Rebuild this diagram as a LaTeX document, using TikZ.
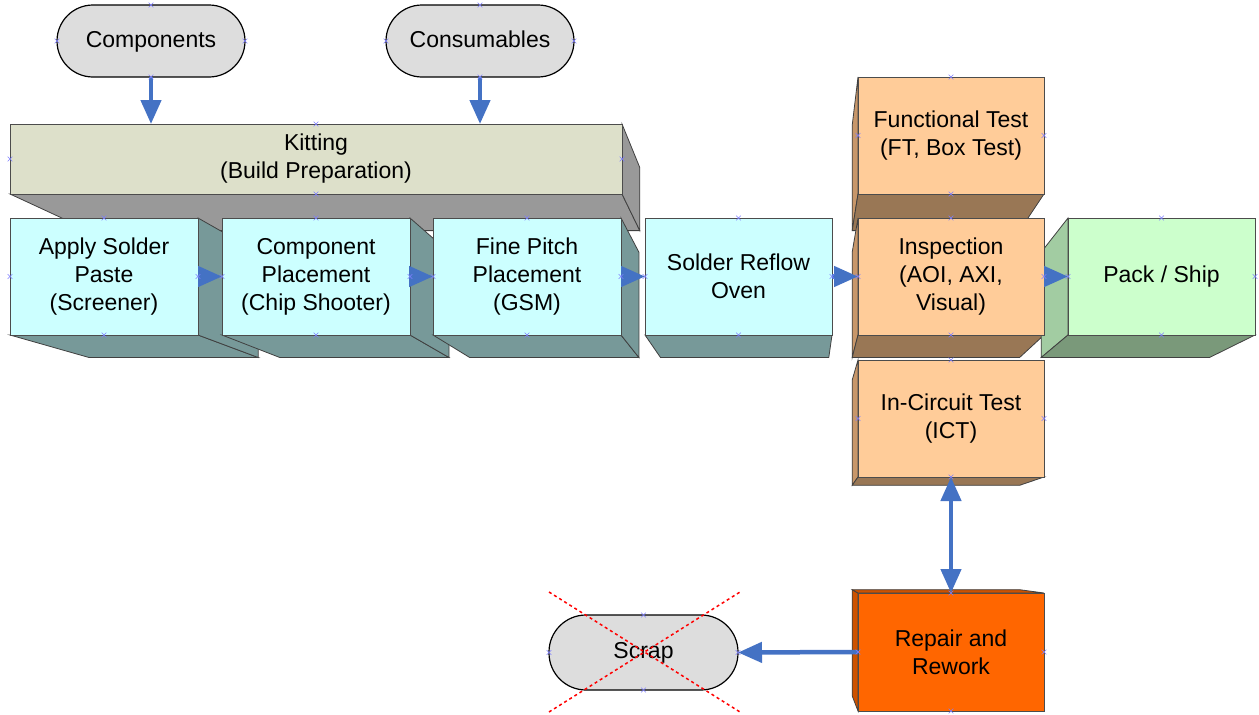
\documentclass[tikz,border=0pt]{standalone}
\usepackage{fontspec}
\setmainfont{Liberation Sans}
\usetikzlibrary{calc,positioning,arrows.meta,shapes.misc}
\pgfdeclarelayer{background}
\pgfsetlayers{background,main}

\definecolor{arrowblue}{HTML}{4472C4}
\definecolor{kitfront}{HTML}{DDE0CA}
\definecolor{kitside}{HTML}{999999}
\definecolor{cyanfront}{HTML}{CCFFFF}
\definecolor{cyanside}{HTML}{779999}
\definecolor{orangefront}{HTML}{FFCC99}
\definecolor{orangeside}{HTML}{C8976A}
\definecolor{orangebottom}{HTML}{997755}
\definecolor{greenfront}{HTML}{CCFFCC}
\definecolor{greenside}{HTML}{A2CCA2}
\definecolor{greenbottom}{HTML}{7A997A}
\definecolor{repairfront}{HTML}{FF6600}
\definecolor{repairside}{HTML}{CC5200}
\definecolor{termfill}{HTML}{DDDDDD}
\definecolor{cptblue}{HTML}{7F7FFF}

% one face of a 3d box, pulled towards the vanishing point (vp)
\newcommand{\boxdepth}{0.1}
\newcommand{\boxface}[4]{%
  \filldraw[fill=#4, draw=black!75, line width=0.8pt] (#1.#2) -- (#1.#3)
    -- ($(#1.#3)!\boxdepth!(vp)$) -- ($(#1.#2)!\boxdepth!(vp)$) -- cycle;}

\begin{document}
\begin{tikzpicture}[x=1pt, y=-1pt,
    font=\fontsize{23}{28}\selectfont,
    box/.style = {draw=black!70, line width=0.8pt, minimum width=188pt, minimum height=117pt, align=center, inner sep=2pt, outer sep=0pt},
    term/.style = {draw=black, line width=1.2pt, fill=termfill, rounded corners=36pt, minimum width=188pt, minimum height=72pt, outer sep=0pt, text height=17pt, text depth=5pt},
    flow/.style = {arrowblue, line width=4.5pt, -{Triangle[length=24pt,width=20pt]}},
    cpt/.style = {cross out, draw=cptblue, minimum size=4pt, inner sep=0pt, line width=0.6pt}]

    \useasboundingbox (0,0) rectangle (1259,715);
    \coordinate (vp) at (800,560);

    \node[term] (comp) at (151,41) {Components};
    \node[term] (cons) at (480,41) {Consumables};
    \node[box, fill=kitfront, minimum width=612pt, minimum height=70pt] (kit) at (316,159) {Kitting\\(Build Preparation)};

    \node[box, fill=cyanfront] (apply) at (104,276.5) {Apply Solder\\Paste\\(Screener)};
    \node[box, fill=cyanfront] (place) [right=24pt of apply] {Component\\Placement\\(Chip Shooter)};
    \node[box, fill=cyanfront] (fine) [right=23pt of place] {Fine Pitch\\Placement\\(GSM)};
    \node[box, fill=cyanfront, minimum width=187pt] (reflow) [right=24pt of fine] {Solder Reflow\\Oven};
    \node[box, fill=orangefront, minimum width=186pt] (insp) [right=26pt of reflow] {Inspection\\(AOI, AXI,\\Visual)};
    \node[box, fill=orangefront, minimum width=186pt] (func) [above=24pt of insp] {Functional Test\\(FT, Box Test)};
    \node[box, fill=orangefront, minimum width=186pt] (ict) [below=25pt of insp] {In-Circuit Test\\(ICT)};
    \node[box, fill=greenfront, minimum width=187pt] (pack) [right=24pt of insp] {Pack / Ship};
    \node[box, fill=repairfront, minimum width=186pt, minimum height=118pt] (repair) [below=116pt of ict] {Repair and\\Rework};
    \node[term, minimum width=189pt, minimum height=75pt, rounded corners=37pt] (scrap) at (643.5,652.5) {Scrap};

    % side faces, drawn behind the fronts
    \begin{pgfonlayer}{background}
        \boxface{kit}{south west}{south east}{kitside}
        \boxface{kit}{south east}{north east}{kitside}
        \foreach \n in {apply,place,fine} {
            \boxface{\n}{south west}{south east}{cyanside}
            \boxface{\n}{south east}{north east}{cyanside}
        }
        \boxface{reflow}{south west}{south east}{cyanside}
        \foreach \n in {func,insp,ict} {
            \boxface{\n}{north west}{south west}{orangeside}
            \boxface{\n}{south west}{south east}{orangebottom}
        }
        \boxface{pack}{north west}{south west}{greenside}
        \boxface{pack}{south west}{south east}{greenbottom}
        \boxface{repair}{north west}{south west}{repairside}
        \boxface{repair}{north east}{north west}{repairside}
    \end{pgfonlayer}

    \draw[flow] (comp.south) -- (comp.south |- kit.north);
    \draw[flow] (cons.south) -- (cons.south |- kit.north);
    \draw[flow] (apply) -- (place);
    \draw[flow] (place) -- (fine);
    \draw[flow] (fine) -- (reflow);
    \draw[flow] (reflow) -- (insp);
    \draw[flow] (insp) -- (pack);
    \draw[flow, {Triangle[length=24pt,width=20pt]}-{Triangle[length=24pt,width=20pt]}] (ict.south) -- (repair.north);
    \draw[flow] (repair.west) -- (scrap.east);

    % scrap is crossed out
    \coordinate (xnw) at (549,592);
    \coordinate (xse) at (740,712);
    \coordinate (xsw) at (549,712);
    \coordinate (xne) at (740,592);
    \draw[red, line width=1.5pt, dash pattern=on 3pt off 3pt] (xnw) -- (xse);
    \draw[red, line width=1.5pt, dash pattern=on 3pt off 3pt] (xsw) -- (xne);

    % connection points
    \foreach \n in {comp,cons,kit,apply,place,fine,reflow,func,insp,ict,pack,repair,scrap}
        \foreach \a in {north,south,east,west}
            \node[cpt] at (\n.\a) {};

\end{tikzpicture}
\end{document}
